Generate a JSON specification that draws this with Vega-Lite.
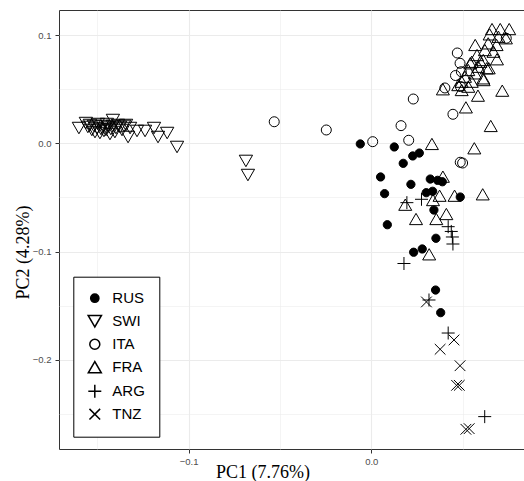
{
  "$schema": "https://vega.github.io/schema/vega-lite/v6.json",
  "width": 465,
  "height": 439,
  "autosize": {"type": "none"},
  "padding": {"left": 59, "top": 10, "right": 0, "bottom": 32},
  "background": "white",
  "config": {
    "view": {"stroke": "#333333", "strokeWidth": 1},
    "axis": {"labelFont": "Liberation Sans", "titleFont": "Liberation Serif"},
    "legend": {
      "title": null, "orient": "none", "legendX": 14.3, "legendY": 266.7,
      "strokeColor": "black", "fillColor": "white", "padding": 14,
      "labelFont": "Liberation Sans", "labelFontSize": 15, "labelColor": "black",
      "labelOffset": 10, "rowPadding": 5
    }
  },
  "data": {
    "values": [
      {"pop": "RUS", "PC1": -0.0060, "PC2": -0.0006},
      {"pop": "RUS", "PC1": 0.0126, "PC2": -0.0034},
      {"pop": "RUS", "PC1": 0.0263, "PC2": -0.0090},
      {"pop": "RUS", "PC1": 0.0227, "PC2": -0.0117},
      {"pop": "RUS", "PC1": 0.0175, "PC2": -0.0185},
      {"pop": "RUS", "PC1": 0.0051, "PC2": -0.0311},
      {"pop": "RUS", "PC1": 0.0217, "PC2": -0.0379},
      {"pop": "RUS", "PC1": 0.0323, "PC2": -0.0330},
      {"pop": "RUS", "PC1": 0.0363, "PC2": -0.0342},
      {"pop": "RUS", "PC1": 0.0389, "PC2": -0.0355},
      {"pop": "RUS", "PC1": 0.0073, "PC2": -0.0465},
      {"pop": "RUS", "PC1": 0.0301, "PC2": -0.0456},
      {"pop": "RUS", "PC1": 0.0336, "PC2": -0.0443},
      {"pop": "RUS", "PC1": 0.0487, "PC2": -0.0496},
      {"pop": "RUS", "PC1": 0.0343, "PC2": -0.0616},
      {"pop": "RUS", "PC1": 0.0088, "PC2": -0.0752},
      {"pop": "RUS", "PC1": 0.0354, "PC2": -0.0877},
      {"pop": "RUS", "PC1": 0.0279, "PC2": -0.0976},
      {"pop": "RUS", "PC1": 0.0232, "PC2": -0.1006},
      {"pop": "RUS", "PC1": 0.0352, "PC2": -0.1355},
      {"pop": "RUS", "PC1": 0.0380, "PC2": -0.1564},

      {"pop": "SWI", "PC1": -0.1600, "PC2": 0.0141},
      {"pop": "SWI", "PC1": -0.1562, "PC2": 0.0187},
      {"pop": "SWI", "PC1": -0.1551, "PC2": 0.0151},
      {"pop": "SWI", "PC1": -0.1540, "PC2": 0.0169},
      {"pop": "SWI", "PC1": -0.1529, "PC2": 0.0123},
      {"pop": "SWI", "PC1": -0.1518, "PC2": 0.0160},
      {"pop": "SWI", "PC1": -0.1512, "PC2": 0.0104},
      {"pop": "SWI", "PC1": -0.1501, "PC2": 0.0141},
      {"pop": "SWI", "PC1": -0.1496, "PC2": 0.0178},
      {"pop": "SWI", "PC1": -0.1485, "PC2": 0.0095},
      {"pop": "SWI", "PC1": -0.1479, "PC2": 0.0132},
      {"pop": "SWI", "PC1": -0.1469, "PC2": 0.0160},
      {"pop": "SWI", "PC1": -0.1463, "PC2": 0.0114},
      {"pop": "SWI", "PC1": -0.1452, "PC2": 0.0123},
      {"pop": "SWI", "PC1": -0.1447, "PC2": 0.0178},
      {"pop": "SWI", "PC1": -0.1441, "PC2": 0.0151},
      {"pop": "SWI", "PC1": -0.1430, "PC2": 0.0086},
      {"pop": "SWI", "PC1": -0.1425, "PC2": 0.0132},
      {"pop": "SWI", "PC1": -0.1414, "PC2": 0.0215},
      {"pop": "SWI", "PC1": -0.1414, "PC2": 0.0160},
      {"pop": "SWI", "PC1": -0.1403, "PC2": 0.0104},
      {"pop": "SWI", "PC1": -0.1397, "PC2": 0.0141},
      {"pop": "SWI", "PC1": -0.1386, "PC2": 0.0169},
      {"pop": "SWI", "PC1": -0.1375, "PC2": 0.0151},
      {"pop": "SWI", "PC1": -0.1364, "PC2": 0.0123},
      {"pop": "SWI", "PC1": -0.1353, "PC2": 0.0160},
      {"pop": "SWI", "PC1": -0.1342, "PC2": 0.0169},
      {"pop": "SWI", "PC1": -0.1331, "PC2": 0.0058},
      {"pop": "SWI", "PC1": -0.1320, "PC2": 0.0141},
      {"pop": "SWI", "PC1": -0.1282, "PC2": 0.0114},
      {"pop": "SWI", "PC1": -0.1238, "PC2": 0.0114},
      {"pop": "SWI", "PC1": -0.1189, "PC2": 0.0141},
      {"pop": "SWI", "PC1": -0.1167, "PC2": 0.0058},
      {"pop": "SWI", "PC1": -0.1117, "PC2": 0.0095},
      {"pop": "SWI", "PC1": -0.1063, "PC2": -0.0034},
      {"pop": "SWI", "PC1": -0.0686, "PC2": -0.0163},
      {"pop": "SWI", "PC1": -0.0675, "PC2": -0.0293},

      {"pop": "ITA", "PC1": -0.0531, "PC2": 0.0199},
      {"pop": "ITA", "PC1": -0.0246, "PC2": 0.0123},
      {"pop": "ITA", "PC1": 0.0008, "PC2": 0.0015},
      {"pop": "ITA", "PC1": 0.0163, "PC2": 0.0163},
      {"pop": "ITA", "PC1": 0.0205, "PC2": 0.0028},
      {"pop": "ITA", "PC1": 0.0230, "PC2": 0.0409},
      {"pop": "ITA", "PC1": 0.0447, "PC2": 0.0268},
      {"pop": "ITA", "PC1": 0.0487, "PC2": -0.0175},
      {"pop": "ITA", "PC1": 0.0500, "PC2": -0.0182},
      {"pop": "ITA", "PC1": 0.0403, "PC2": 0.0511},
      {"pop": "ITA", "PC1": 0.0471, "PC2": 0.0834},
      {"pop": "ITA", "PC1": 0.0486, "PC2": 0.0739},
      {"pop": "ITA", "PC1": 0.0461, "PC2": 0.0626},
      {"pop": "ITA", "PC1": 0.0493, "PC2": 0.0661},
      {"pop": "ITA", "PC1": 0.0488, "PC2": 0.0524},
      {"pop": "ITA", "PC1": 0.0739, "PC2": 0.0970},

      {"pop": "FRA", "PC1": 0.0332, "PC2": -0.0006},
      {"pop": "FRA", "PC1": 0.0564, "PC2": -0.0046},
      {"pop": "FRA", "PC1": 0.0392, "PC2": -0.0308},
      {"pop": "FRA", "PC1": 0.0186, "PC2": -0.0567},
      {"pop": "FRA", "PC1": 0.0338, "PC2": -0.0524},
      {"pop": "FRA", "PC1": 0.0374, "PC2": -0.0484},
      {"pop": "FRA", "PC1": 0.0456, "PC2": -0.0484},
      {"pop": "FRA", "PC1": 0.0610, "PC2": -0.0471},
      {"pop": "FRA", "PC1": 0.0245, "PC2": -0.0699},
      {"pop": "FRA", "PC1": 0.0356, "PC2": -0.0699},
      {"pop": "FRA", "PC1": 0.0411, "PC2": -0.0653},
      {"pop": "FRA", "PC1": 0.0317, "PC2": -0.1025},
      {"pop": "FRA", "PC1": 0.0654, "PC2": 0.0160},
      {"pop": "FRA", "PC1": 0.0518, "PC2": 0.0332},
      {"pop": "FRA", "PC1": 0.0584, "PC2": 0.0440},
      {"pop": "FRA", "PC1": 0.0717, "PC2": 0.0486},
      {"pop": "FRA", "PC1": 0.0615, "PC2": 0.0584},
      {"pop": "FRA", "PC1": 0.0392, "PC2": 0.0499},
      {"pop": "FRA", "PC1": 0.0661, "PC2": 0.1055},
      {"pop": "FRA", "PC1": 0.0706, "PC2": 0.1055},
      {"pop": "FRA", "PC1": 0.0755, "PC2": 0.1055},
      {"pop": "FRA", "PC1": 0.0648, "PC2": 0.1006},
      {"pop": "FRA", "PC1": 0.0696, "PC2": 0.0984},
      {"pop": "FRA", "PC1": 0.0737, "PC2": 0.0970},
      {"pop": "FRA", "PC1": 0.0640, "PC2": 0.0923},
      {"pop": "FRA", "PC1": 0.0686, "PC2": 0.0908},
      {"pop": "FRA", "PC1": 0.0569, "PC2": 0.0908},
      {"pop": "FRA", "PC1": 0.0622, "PC2": 0.0861},
      {"pop": "FRA", "PC1": 0.0669, "PC2": 0.0846},
      {"pop": "FRA", "PC1": 0.0579, "PC2": 0.0815},
      {"pop": "FRA", "PC1": 0.0613, "PC2": 0.0769},
      {"pop": "FRA", "PC1": 0.0688, "PC2": 0.0776},
      {"pop": "FRA", "PC1": 0.0550, "PC2": 0.0753},
      {"pop": "FRA", "PC1": 0.0586, "PC2": 0.0707},
      {"pop": "FRA", "PC1": 0.0632, "PC2": 0.0693},
      {"pop": "FRA", "PC1": 0.0531, "PC2": 0.0677},
      {"pop": "FRA", "PC1": 0.0568, "PC2": 0.0646},
      {"pop": "FRA", "PC1": 0.0613, "PC2": 0.0600},
      {"pop": "FRA", "PC1": 0.0513, "PC2": 0.0615},
      {"pop": "FRA", "PC1": 0.0550, "PC2": 0.0569},
      {"pop": "FRA", "PC1": 0.0495, "PC2": 0.0569},
      {"pop": "FRA", "PC1": 0.0531, "PC2": 0.0523},
      {"pop": "FRA", "PC1": 0.0476, "PC2": 0.0538},
      {"pop": "FRA", "PC1": 0.0495, "PC2": 0.0492},
      {"pop": "FRA", "PC1": 0.0597, "PC2": 0.0753},
      {"pop": "FRA", "PC1": 0.0542, "PC2": 0.0739},
      {"pop": "FRA", "PC1": 0.0643, "PC2": 0.0693},

      {"pop": "ARG", "PC1": 0.0195, "PC2": -0.0548},
      {"pop": "ARG", "PC1": 0.0275, "PC2": -0.0517},
      {"pop": "ARG", "PC1": 0.0421, "PC2": -0.0770},
      {"pop": "ARG", "PC1": 0.0438, "PC2": -0.0814},
      {"pop": "ARG", "PC1": 0.0444, "PC2": -0.0865},
      {"pop": "ARG", "PC1": 0.0447, "PC2": -0.0930},
      {"pop": "ARG", "PC1": 0.0179, "PC2": -0.1110},
      {"pop": "ARG", "PC1": 0.0316, "PC2": -0.1447},
      {"pop": "ARG", "PC1": 0.0421, "PC2": -0.1752},
      {"pop": "ARG", "PC1": 0.0621, "PC2": -0.2524},

      {"pop": "TNZ", "PC1": 0.0302, "PC2": -0.1465},
      {"pop": "TNZ", "PC1": 0.0453, "PC2": -0.1816},
      {"pop": "TNZ", "PC1": 0.0377, "PC2": -0.1902},
      {"pop": "TNZ", "PC1": 0.0486, "PC2": -0.2054},
      {"pop": "TNZ", "PC1": 0.0467, "PC2": -0.2235},
      {"pop": "TNZ", "PC1": 0.0482, "PC2": -0.2235},
      {"pop": "TNZ", "PC1": 0.0518, "PC2": -0.2641},
      {"pop": "TNZ", "PC1": 0.0536, "PC2": -0.2635}
    ]
  },
  "resolve": {"axis": {"x": "independent", "y": "independent"}},
  "layer": [
    {
      "mark": {"type": "point", "opacity": 0},
      "encoding": {
        "x": {
          "field": "PC1", "type": "quantitative",
          "scale": {"domain": [-0.1709, 0.0836], "nice": false, "zero": false},
          "axis": {
            "orient": "bottom", "values": [-0.15, -0.1, -0.05, 0, 0.05],
            "labels": false, "ticks": false, "domain": false, "title": null,
            "grid": true, "gridColor": "#EBEBEB",
            "gridWidth": {"condition": {"test": "abs(datum.value*10 - round(datum.value*10)) < 0.001", "value": 1.1}, "value": 0.55}
          }
        },
        "y": {
          "field": "PC2", "type": "quantitative",
          "scale": {"domain": [-0.2823, 0.1231], "nice": false, "zero": false},
          "axis": {
            "orient": "left", "values": [-0.25, -0.2, -0.15, -0.1, -0.05, 0, 0.05, 0.1],
            "labels": false, "ticks": false, "domain": false, "title": null,
            "grid": true, "gridColor": "#EBEBEB",
            "gridWidth": {"condition": {"test": "abs(datum.value*10 - round(datum.value*10)) < 0.001", "value": 1.1}, "value": 0.55}
          }
        }
      }
    },
    {
      "mark": {"type": "point", "filled": true, "stroke": "black", "strokeWidth": 1, "opacity": 1},
      "encoding": {
        "x": {
          "field": "PC1", "type": "quantitative",
          "axis": {
            "orient": "bottom", "values": [-0.1, 0], "format": ".1f",
            "grid": false, "domain": false,
            "ticks": true, "tickSize": 4, "tickColor": "#333333", "tickWidth": 1,
            "labelFontSize": 9.5, "labelColor": "#4D4D4D", "labelPadding": 3,
            "title": "PC1 (7.76%)", "titleFont": "Liberation Serif", "titleFontSize": 18,
            "titleFontWeight": "normal", "titleColor": "black",
            "titleX": 203.5, "titleY": 28, "titleAlign": "center", "titleBaseline": "alphabetic"
          }
        },
        "y": {
          "field": "PC2", "type": "quantitative",
          "axis": {
            "orient": "left", "values": [-0.2, -0.1, 0, 0.1], "format": ".1f",
            "grid": false, "domain": false,
            "ticks": true, "tickSize": 4, "tickColor": "#333333", "tickWidth": 1,
            "labelFontSize": 9.5, "labelColor": "#4D4D4D", "labelPadding": 4,
            "title": "PC2 (4.28%)", "titleFont": "Liberation Serif", "titleFontSize": 18,
            "titleFontWeight": "normal", "titleColor": "black", "titleAngle": 270,
            "titleX": -31, "titleY": 242, "titleAlign": "center", "titleBaseline": "alphabetic"
          }
        },
        "shape": {
          "field": "pop", "type": "nominal",
          "scale": {
            "domain": ["RUS", "SWI", "ITA", "FRA", "ARG", "TNZ"],
            "range": ["circle", "triangle-down", "circle", "triangle-up", "M-1,0H1M0,-1V1", "M-1,-1L1,1M-1,1L1,-1"]
          },
          "legend": {
            "encode": {"symbols": {"update": {"stroke": {"value": "black"}, "strokeWidth": {"value": 1}}}}
          }
        },
        "fill": {
          "field": "pop", "type": "nominal",
          "scale": {
            "domain": ["RUS", "SWI", "ITA", "FRA", "ARG", "TNZ"],
            "range": ["black", "transparent", "transparent", "transparent", "transparent", "transparent"]
          },
          "legend": {
            "encode": {"symbols": {"update": {"stroke": {"value": "black"}, "strokeWidth": {"value": 1}}}}
          }
        },
        "size": {
          "field": "pop", "type": "nominal",
          "scale": {
            "type": "ordinal",
            "domain": ["RUS", "SWI", "ITA", "FRA", "ARG", "TNZ"],
            "range": [68, 177, 100, 169, 169, 114]
          },
          "legend": {
            "encode": {"symbols": {"update": {"stroke": {"value": "black"}, "strokeWidth": {"value": 1}}}}
          }
        }
      }
    }
  ]
}
